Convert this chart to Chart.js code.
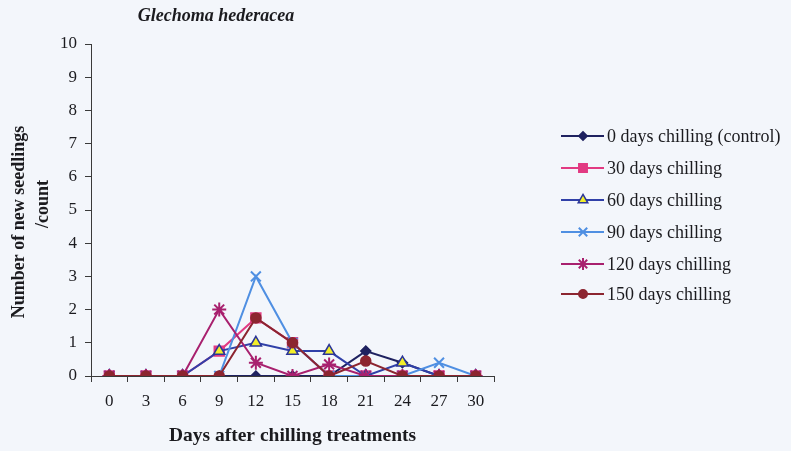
<!DOCTYPE html>
<html>
<head>
<meta charset="utf-8">
<script src="https://cdn.jsdelivr.net/npm/chart.js@4.4.1/dist/chart.umd.min.js"></script>
<style>
html,body{margin:0;padding:0;background:#f3f6fb;}
#wrap{width:791px;height:451px;position:relative;}
</style>
</head>
<body>
<div id="wrap"><canvas id="c" width="791" height="451"></canvas></div>
<script>
const days = ['0','3','6','9','12','15','18','21','24','27','30'];
const seriesNames = ['0 days chilling (control)','30 days chilling','60 days chilling','90 days chilling','120 days chilling','150 days chilling'];
const control  = [0,0,0,0,0,0,0,0.75,0.4,0,0];
const chill30  = [0,0,0,0.75,1.75,1.0,0,0,0,0,0];
const chill60  = [0,0,0,0.75,1.0,0.75,0.75,0,0.4,0,0];
const chill90  = [0,0,0,0,3.0,1.0,0,0,0,0.4,0];
const chill120 = [0,0,0,2.0,0.4,0,0.35,0,0,0,0];
const chill150 = [0,0,0,0,1.75,1.0,0,0.45,0,0,0];
const yTicks = [0,1,2,3,4,5,6,7,8,9,10];

const FONT = '"Liberation Serif","Times New Roman",serif';
const TXT = '#1b1b1f';

const styles = [
  {line:'#1f2260', fill:'#1f2260', border:'#1f2260', ps:'rectRot', r:5, bw:1.5},
  {line:'#e23a82', fill:'#e23a82', border:'#e23a82', ps:'rect', r:7, bw:1.5},
  {line:'#3040a8', fill:'#f2ee2a', border:'#2a3598', ps:'triangle', r:6.5, bw:1.5},
  {line:'#4f8fe2', fill:'#4f8fe2', border:'#4f8fe2', ps:'crossRot', r:7, bw:2},
  {line:'#a8206e', fill:'#a8206e', border:'#a8206e', ps:'star', r:7, bw:2},
  {line:'#8c2530', fill:'#8c2530', border:'#8c2530', ps:'circle', r:5, bw:1.5}
];
const dataArr = [control, chill30, chill60, chill90, chill120, chill150];

const datasets = dataArr.map((d,i)=>({
  label: seriesNames[i],
  data: d,
  borderColor: styles[i].line,
  backgroundColor: styles[i].fill,
  pointBackgroundColor: styles[i].fill,
  pointBorderColor: styles[i].border,
  pointStyle: styles[i].ps,
  pointRadius: styles[i].r,
  pointBorderWidth: styles[i].bw,
  borderWidth: 2,
  tension: 0,
  order: 5 - i
}));

const extras = {
  id:'extras',
  afterDraw(chart){
    const ctx = chart.ctx;
    ctx.save();
    ctx.fillStyle = TXT;
    // title
    ctx.font = 'italic bold 18px ' + FONT;
    ctx.textAlign = 'center';
    ctx.textBaseline = 'middle';
    ctx.fillText('Glechoma hederacea', 216, 16);
    // y title
    ctx.font = 'bold 18px ' + FONT;
    ctx.save();
    ctx.translate(19, 222);
    ctx.rotate(-Math.PI/2);
    ctx.fillText('Number of new seedlings', 0, 0);
    ctx.restore();
    ctx.save();
    ctx.translate(43, 204);
    ctx.rotate(-Math.PI/2);
    ctx.fillText('/count', 0, 0);
    ctx.restore();
    // legend
    const rows = [136,168,200,232,264,294];
    ctx.font = '18px ' + FONT;
    ctx.textAlign = 'left';
    chart.data.datasets.forEach((ds,i)=>{
      const y = rows[i];
      ctx.strokeStyle = ds.borderColor;
      ctx.lineWidth = 2;
      ctx.beginPath();
      ctx.moveTo(561,y); ctx.lineTo(604,y); ctx.stroke();
      ctx.fillStyle = ds.pointBackgroundColor;
      ctx.strokeStyle = ds.pointBorderColor;
      ctx.lineWidth = ds.pointBorderWidth;
      if (Chart.helpers && Chart.helpers.drawPoint) {
        Chart.helpers.drawPoint(ctx, {pointStyle: ds.pointStyle, radius: ds.pointRadius*0.85, rotation:0, borderWidth: ds.pointBorderWidth}, 583, y);
      } else {
        ctx.beginPath(); ctx.arc(583,y,4,0,Math.PI*2); ctx.fill(); ctx.stroke();
      }
      ctx.fillStyle = TXT;
      ctx.fillText(ds.label, 607, y+1);
    });
    ctx.restore();
  }
};

new Chart(document.getElementById('c'), {
  type:'line',
  data:{labels: days, datasets},
  options:{
    responsive:false,
    animation:false,
    devicePixelRatio:1,
    layout:{padding:{top:44,right:297,left:0,bottom:0}},
    plugins:{legend:{display:false}, title:{display:false}, tooltip:{enabled:false}},
    scales:{
      x:{
        type:'category',
        offset:true,
        grid:{display:true, offset:true, drawOnChartArea:false, drawTicks:true, tickLength:6, color:'#3a3a3a', lineWidth:1},
        border:{display:true, color:'#3a3a3a', width:1},
        ticks:{color:TXT, font:{family:FONT, size:17}, padding:9, maxRotation:0, autoSkip:false},
        title:{display:true, text:'Days after chilling treatments', color:TXT, font:{family:FONT, size:19.5, weight:'bold'}, padding:{top:4,bottom:3}},
        afterFit(s){ s.height = 75; }
      },
      y:{
        min:0, max:10,
        afterBuildTicks(s){ s.ticks = yTicks.map(v=>({value:v})); },
        grid:{display:true, drawOnChartArea:false, drawTicks:true, tickLength:6, color:'#3a3a3a', lineWidth:1},
        border:{display:true, color:'#3a3a3a', width:1},
        ticks:{color:TXT, font:{family:FONT, size:17}, padding:8},
        afterFit(s){ s.width = 91; }
      }
    }
  },
  plugins:[extras]
});
</script>
</body>
</html>
